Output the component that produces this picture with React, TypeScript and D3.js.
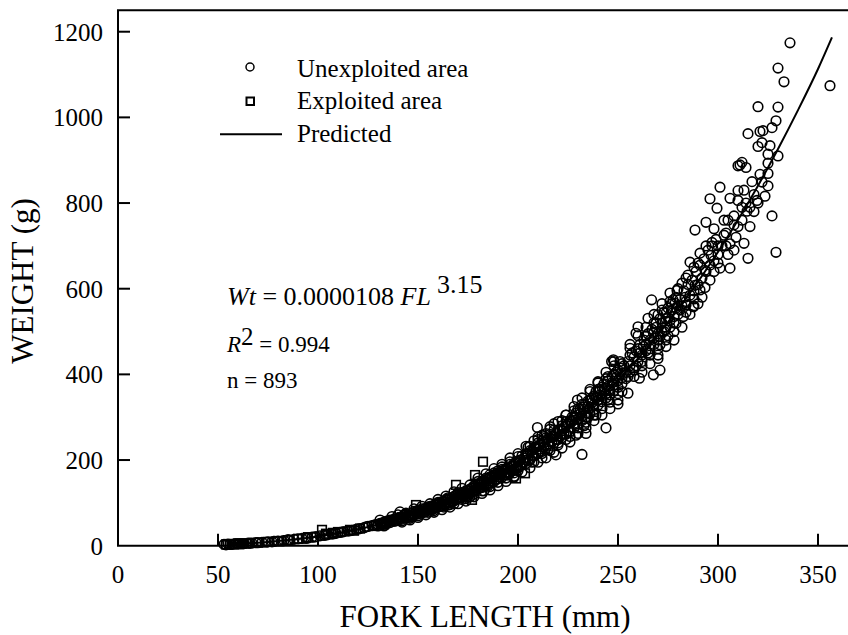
import React from 'react';
import * as d3 from 'd3';

const W = 848;
const H = 635;

const xTicks = [0, 50, 100, 150, 200, 250, 300, 350];
const yTicks = [0, 200, 400, 600, 800, 1000, 1200];

const legendLabels = ['Unexploited area', 'Exploited area', 'Predicted'];

// Unexploited area: [fork length (mm), weight (g)]
const unexploited: [number, number][] = [
  [53, 3], [54, 2], [55, 4], [56, 3], [57, 3], [58, 4], [59, 5], [60, 4], [61, 5], [63, 5], [65, 6], [67, 6], [69, 7], [72, 8], [75, 9], [78, 10], [80, 11], [83, 12], [85, 14], [88, 15], [90, 16], [92, 17], [95, 18], [97, 20], [99, 21],
  [62, 4], [66, 6], [70, 7], [74, 8], [77, 9], [82, 11], [86, 13], [94, 17], [98, 20], [104, 25], [108, 28], [112, 32], [116, 35], [120, 39], [124, 44], [128, 48],
  [101, 23], [103, 24], [105, 26], [107, 27], [109, 29], [111, 31], [113, 33], [115, 34], [117, 36], [119, 38], [121, 40], [123, 42], [125, 45], [127, 47], [129, 49], [130, 50],
  [131, 60], [133, 46], [137, 68], [141, 79], [143, 72],
  [131, 52], [132, 49], [133, 55], [134, 53], [135, 58], [136, 54], [137, 60], [138, 57], [139, 63], [140, 59], [141, 66], [142, 62], [143, 70], [144, 65], [145, 72], [146, 68], [147, 75], [148, 71], [149, 79], [150, 74], [151, 82], [152, 77],
  [130, 46], [132, 53], [134, 50], [136, 60], [138, 62], [140, 65], [142, 58], [144, 73], [146, 64], [148, 80], [150, 70], [151, 76], [152, 86], [150, 83], [147, 68], [145, 66], [143, 66], [139, 58], [136, 57], [134, 57],
  [153, 85], [154, 80], [155, 90], [156, 84], [157, 92], [158, 87], [159, 97], [160, 90], [161, 100], [162, 94], [163, 104], [164, 97], [165, 108], [166, 101], [167, 112], [168, 104], [169, 118], [170, 110], [171, 120], [172, 113], [173, 125], [174, 116], [175, 130], [176, 122],
  [155, 78], [160, 101], [165, 95], [170, 124], [175, 115],
  [153, 78], [154, 88], [156, 92], [157, 84], [158, 95], [159, 88], [160, 98], [161, 92], [162, 103], [163, 96], [164, 108], [165, 112], [166, 96], [167, 105], [168, 115], [169, 108], [170, 118], [171, 112], [172, 124], [173, 115], [174, 128], [175, 122], [176, 132], [176, 114], [174, 110], [172, 108], [168, 98], [166, 110], [163, 90], [158, 82],
  [140, 72], [144, 76], [148, 86], [152, 92], [156, 98], [160, 108], [164, 116], [168, 126], [172, 134], [176, 142], [180, 158], [184, 168], [188, 180], [192, 190], [196, 205], [200, 215],
  [142, 55], [146, 60], [150, 66], [154, 72], [158, 78], [162, 84], [166, 90], [170, 98], [174, 104], [178, 114], [182, 122], [186, 130], [190, 140], [194, 150], [198, 162], [202, 172],
  [177, 135], [178, 128], [179, 142], [180, 132], [181, 146], [182, 136], [183, 152], [184, 140], [185, 156], [186, 146], [187, 160], [188, 150], [189, 166], [190, 156], [191, 172], [192, 160], [193, 176], [194, 166], [195, 182], [196, 170], [197, 186], [198, 176], [199, 195], [200, 182], [201, 200], [202, 188],
  [180, 150], [185, 140], [190, 175], [195, 165], [200, 208], [198, 160], [188, 170], [183, 128],
  [177, 125], [178, 140], [179, 130], [180, 144], [181, 135], [182, 150], [183, 140], [184, 158], [185, 146], [186, 160], [187, 150], [188, 164], [189, 155], [190, 168], [191, 160], [192, 178], [193, 165], [194, 180], [195, 172], [196, 190], [197, 175], [198, 192], [199, 182], [200, 198], [201, 188], [202, 210], [178, 120], [182, 128], [186, 138], [190, 148], [194, 158], [198, 170], [186, 166], [192, 184], [196, 196], [200, 175],
  [203, 205], [204, 192], [205, 215], [206, 200], [207, 222], [208, 210], [209, 230], [210, 215], [211, 235], [212, 220], [213, 242], [214, 228], [215, 250], [216, 234], [217, 255], [218, 240], [219, 262], [220, 248], [221, 270], [222, 252], [223, 276], [224, 260], [225, 285], [226, 266],
  [205, 230], [210, 240], [212, 205], [215, 225], [218, 270], [220, 235], [222, 280], [224, 290], [207, 195], [213, 255],
  [203, 195], [204, 215], [205, 200], [206, 222], [207, 210], [208, 230], [209, 215], [210, 232], [211, 220], [212, 245], [213, 230], [214, 252], [215, 238], [216, 260], [217, 242], [218, 255], [219, 248], [220, 270], [221, 255], [222, 268], [223, 262], [224, 280], [225, 268], [226, 292], [204, 200], [208, 196], [212, 215], [216, 222], [220, 240], [224, 248], [206, 232], [210, 248], [214, 262], [218, 285], [222, 292], [226, 255],
  [204, 232], [208, 245], [212, 258], [216, 272], [220, 290], [224, 305], [228, 325], [232, 345], [236, 365], [240, 380], [244, 405], [248, 430],
  [206, 182], [210, 195], [214, 205], [218, 218], [222, 228], [226, 242], [230, 262], [234, 275], [238, 292], [242, 305], [246, 320], [250, 340],
  [209.7, 276], [216, 278], [210, 254], [219, 212], [224, 305], [229, 258], [234, 262], [229.7, 340], [239, 305], [240, 383], [236, 360], [245.7, 365], [245, 395], [250, 331], [255, 356], [232, 213], [244, 275],
  [227, 290], [228, 275], [229, 300], [230, 285], [231, 308], [232, 292], [233, 318], [234, 300], [235, 325], [236, 308], [237, 334], [238, 318], [239, 345], [240, 328], [241, 352], [242, 336], [243, 362], [244, 345], [245, 372], [246, 352], [247, 380], [248, 362], [249, 392], [250, 370], [251, 400], [252, 378],
  [230, 320], [235, 300], [238, 350], [242, 370], [245, 340], [248, 400], [250, 410], [252, 360], [228, 300], [233, 280],
  [227, 300], [228, 285], [229, 310], [230, 295], [231, 320], [232, 302], [233, 330], [234, 310], [235, 338], [236, 320], [237, 345], [238, 330], [239, 360], [240, 340], [241, 365], [242, 350], [243, 378], [244, 355], [245, 385], [246, 362], [247, 395], [248, 375], [249, 405], [250, 385], [251, 415], [252, 392], [230, 275], [234, 288], [238, 305], [242, 320], [246, 335], [250, 355], [236, 340], [240, 365], [244, 390], [248, 420], [252, 425], [228, 315], [232, 330],
  [247.7, 434], [251, 430], [246.8, 430], [252.7, 402], [260.7, 391], [267.7, 399], [271, 410], [270, 437], [256, 445], [256, 461], [262.7, 465], [259, 496], [260, 511], [267.7, 496], [265, 531], [270, 539], [274, 543], [271, 488], [275, 490], [279, 519], [282.7, 535], [281, 550], [278.5, 566], [266.8, 574], [284, 562], [287.7, 558],
  [254, 405], [256, 420], [258, 440], [259, 420], [261, 450], [262, 430], [264, 470], [265, 450], [266, 480], [268, 470], [269, 510], [270, 480], [272, 520], [273, 500], [274, 530], [276, 510], [277, 550], [278, 520], [280, 560],
  [253, 420], [254, 390], [255, 430], [256, 405], [257, 450], [258, 415], [259, 455], [260, 430], [261, 470], [262, 445], [263, 480], [264, 455], [265, 495], [266, 460], [267, 505], [268, 485], [269, 520], [270, 495], [271, 530], [272, 500], [273, 545], [274, 510], [275, 555], [276, 525], [277, 565], [278, 535], [279, 580], [280, 540], [255, 395], [258, 410], [262, 420], [266, 445], [270, 460], [274, 480], [278, 500], [260, 460], [264, 490], [268, 520], [272, 550], [276, 570],
  [256, 470], [260, 490], [264, 510], [268, 540], [272, 565], [276, 590], [280, 600], [284, 625], [288, 650],
  [258, 395], [262, 405], [266, 425], [270, 445], [274, 465], [278, 480], [282, 510], [286, 540], [290, 565],
  [281, 575], [282, 560], [283, 595], [284, 570], [285, 610], [286, 585], [287, 620], [288, 595], [289, 640], [290, 610], [291, 655], [292, 625], [293, 670], [294, 640], [295, 690], [296, 655], [297, 700], [298, 665], [299, 715], [300, 680], [284, 545], [288, 560], [292, 580], [296, 620], [300, 700], [290, 660], [294, 700], [298, 740],
  [297, 708], [291, 683], [286, 662], [288.5, 737], [294, 755], [299.5, 788], [296.5, 678], [303, 725], [308, 749], [313, 706], [315, 671], [314.5, 781], [310, 806], [319.5, 806], [323.5, 816], [322, 849], [327, 770], [329, 685], [306, 648], [301, 648], [293.5, 643], [288.5, 608], [283.5, 580], [282, 613], [279.5, 596], [277.5, 574], [273.5, 504], [271, 469], [275, 532], [279, 555], [291, 597], [285, 632], [288, 576], [293.5, 603], [296, 810],
  [304, 700], [308, 690], [300, 660], [298, 640], [305, 760], [312, 790], [318, 780], [316, 745],
  [302, 700], [304, 730], [306, 705], [308, 770], [310, 745], [312, 760], [314, 800], [316, 790], [318, 820], [320, 800], [317, 850], [313, 830], [309, 720], [305, 680], [303, 760],
  [336, 1174], [330, 1115], [333, 1083], [356, 1074], [320, 1025], [330, 1024], [329, 992], [327, 976], [322.5, 969], [321, 967], [315, 962], [322, 941], [320, 932], [326, 934], [325, 914], [330, 910], [312, 895], [311, 889], [314, 883], [310, 887], [325, 893], [325, 869], [321, 867], [325, 840], [301, 837], [310, 829], [306, 811],
];

// Exploited area: [fork length (mm), weight (g)]
const exploited: [number, number][] = [
  [54, 3], [56, 4], [58, 3], [60, 5], [62, 5], [64, 5], [70, 7], [75, 9], [80, 11], [85, 13], [90, 16], [95, 20], [102, 37], [104, 28], [107.5, 30], [110, 32], [116, 37], [118, 35], [121, 40], [128, 46], [133, 50], [138, 58], [142, 66], [146, 70], [149, 95], [150, 78], [153, 82], [155, 85], [157, 90], [160, 96], [162, 92], [165, 102], [167, 108], [169, 142], [170, 112], [172, 118], [174, 122], [175, 128], [177, 107], [178.5, 165], [180, 135], [182, 143], [182.5, 196], [184, 150], [185, 155], [187, 160], [189, 165], [190, 170], [192, 175], [194, 170], [196, 178], [199, 157], [203.5, 169], [200, 185],
];

// Predicted curve Wt = 0.0000108 FL^3.15, evaluated at these lengths
const predictedFL = [55, 60, 65, 70, 75, 80, 90, 100, 110, 120, 130, 140, 150, 160, 170, 180, 190, 200, 210, 220, 230, 240, 250, 260, 270, 280, 290, 300, 310, 320, 330, 340, 350, 357];
const predictedWt = [3.3, 4.3, 5.6, 7.0, 8.7, 10.7, 15.5, 21.5, 29.1, 38.3, 49.2, 62.2, 77.3, 94.7, 114.7, 137.3, 162.7, 191.3, 223.0, 258.2, 297.0, 339.7, 386.3, 437.0, 492.5, 552.1, 616.3, 686, 760.6, 840.6, 926.3, 1017, 1113, 1187];

export default function App() {
  const x = d3.scaleLinear().domain([0, 365]).range([118, 848]);
  const y = d3.scaleLinear().domain([0, 1250]).range([545.7, 10.3]);
  const x0 = x(0);
  const y0 = y(0);
  const yTop = y(1250);
  const xRight = 860;

  const linePts = predictedFL.map((f, i) => [f, predictedWt[i]] as [number, number]);
  const line = d3
    .line<[number, number]>()
    .x((d) => x(d[0]))
    .y((d) => y(d[1]))
    .curve(d3.curveMonotoneX);

  const font = "'Liberation Serif', 'Times New Roman', Times, serif";

  return (
    <svg
      width={W}
      height={H}
      style={{ position: 'absolute', left: 0, top: 0, background: '#fff' }}
      fontFamily={font}
    >
      <rect width={W} height={H} fill="#fff" />
      {/* frame */}
      <path
        d={`M${xRight},${yTop}H${x0}V${y0}H${xRight}`}
        fill="none"
        stroke="#000"
        strokeWidth={2}
      />
      {/* y ticks */}
      {yTicks.map((t) => (
        <g key={'y' + t}>
          {t > 0 && (
            <line x1={x0} x2={x0 + 12} y1={y(t)} y2={y(t)} stroke="#000" strokeWidth={2} />
          )}
          <text x={103} y={y(t) + 9} fontSize={25} textAnchor="end" fill="#000">
            {t}
          </text>
        </g>
      ))}
      {/* x ticks */}
      {xTicks.map((t) => (
        <g key={'x' + t}>
          {t > 0 && (
            <line x1={x(t)} x2={x(t)} y1={y0} y2={y0 - 12} stroke="#000" strokeWidth={2} />
          )}
          <text x={x(t)} y={583} fontSize={25} textAnchor="middle" fill="#000">
            {t}
          </text>
        </g>
      ))}
      {/* axis titles */}
      <text x={485} y={627} fontSize={31} textAnchor="middle" fill="#000">
        FORK LENGTH (mm)
      </text>
      <text
        transform={`translate(33,281) rotate(-90)`}
        fontSize={31}
        textAnchor="middle"
        fill="#000"
      >
        WEIGHT (g)
      </text>

      {/* data */}
      <g fill="none" stroke="#000" strokeWidth={1.6}>
        {unexploited.map((d, i) => (
          <circle key={'u' + i} cx={x(d[0])} cy={y(d[1])} r={4.8} />
        ))}
        {exploited.map((d, i) => (
          <rect key={'e' + i} x={x(d[0]) - 4.3} y={y(d[1]) - 4.3} width={8.6} height={8.6} />
        ))}
      </g>
      <path d={line(linePts) || ''} fill="none" stroke="#000" strokeWidth={2} />

      {/* legend */}
      <circle cx={250} cy={67} r={4} fill="none" stroke="#000" strokeWidth={1.5} />
      <rect x={246.5} y={97.5} width={7.5} height={7.5} fill="none" stroke="#000" strokeWidth={2} />
      <line x1={220} x2={282} y1={134.3} y2={134.3} stroke="#000" strokeWidth={2} />
      {legendLabels.map((l, i) => (
        <text key={l} x={297} y={76.7 + i * 32.5} fontSize={25} fill="#000">
          {l}
        </text>
      ))}

      {/* equation */}
      <text x={227} y={305} fontSize={26} fill="#000">
        <tspan fontStyle="italic">Wt</tspan>
        {' = 0.0000108 '}
        <tspan fontStyle="italic">FL</tspan>
        <tspan dx={6} dy={-12}>3.15</tspan>
      </text>
      <text x={227} y={352} fontSize={23} fill="#000">
        <tspan fontStyle="italic">R</tspan>
        <tspan dy={-7} fontSize={25}>2</tspan>
        <tspan dy={7}>{' = 0.994'}</tspan>
      </text>
      <text x={227} y={388} fontSize={23} fill="#000">
        n = 893
      </text>
    </svg>
  );
}
